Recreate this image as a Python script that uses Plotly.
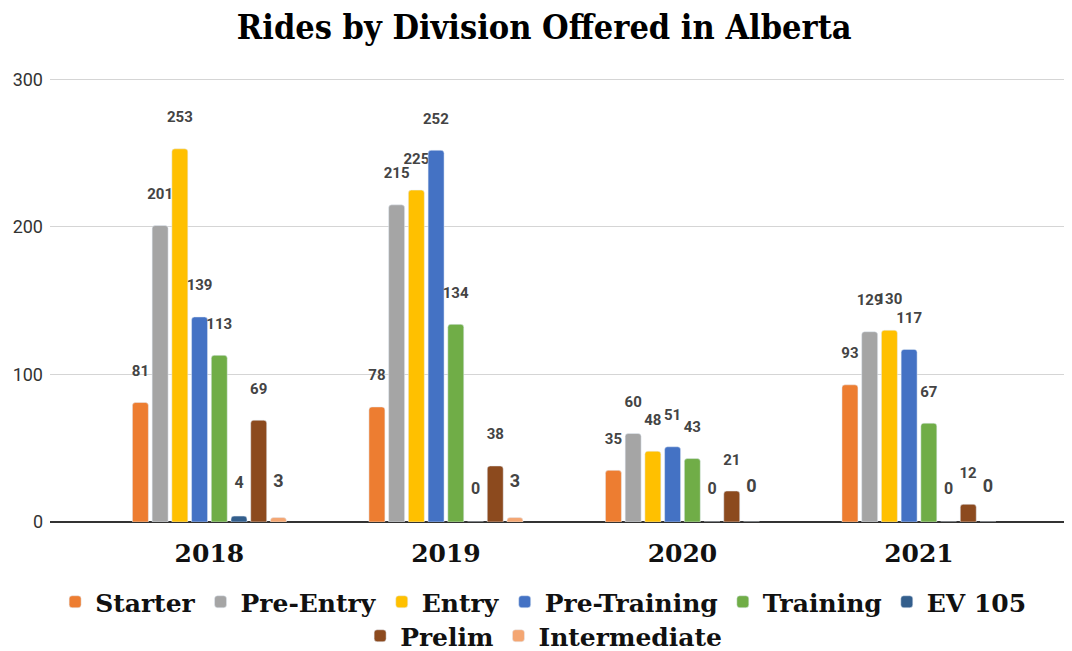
import plotly.graph_objects as go

years = ["2018", "2019", "2020", "2021"]
series_names = ["Starter", "Pre-Entry", "Entry", "Pre-Training", "Training", "EV 105", "Prelim", "Intermediate"]
starter = [81, 78, 35, 93]
pre_entry = [201, 215, 60, 129]
entry = [253, 225, 48, 130]
pre_training = [139, 252, 51, 117]
training = [113, 134, 43, 67]
ev105 = [4, 0, 0, 0]
prelim = [69, 38, 21, 12]
intermediate = [3, 3, 0, 0]
values = [starter, pre_entry, entry, pre_training, training, ev105, prelim, intermediate]
colors = ["#ED7D31", "#A5A5A5", "#FFC000", "#4472C4", "#70AD47", "#335E8C", "#8C4A1E", "#F4A672"]
legend_ids = ["legend", "legend", "legend", "legend", "legend", "legend", "legend2", "legend2"]
label_sizes = [15, 15, 15, 15, 15, 16, 15, 18]
y_ticks = [0, 100, 200, 300]

fig = go.Figure()
for name, vals, col, lg, ls in zip(series_names, values, colors, legend_ids, label_sizes):
    fig.add_trace(go.Bar(
        x=years, y=vals, name=name, marker_color=col, legend=lg,
        text=[str(v) + "<br> " for v in vals], textposition="outside",
        textfont=dict(family="Roboto", size=ls, color="#444444", weight="bold"),
        constraintext="none", cliponaxis=False,
    ))

legend_font = dict(family="DejaVu Serif", size=25, color="#111111", weight="bold")
fig.update_layout(
    width=1064, height=643,
    paper_bgcolor="white", plot_bgcolor="white",
    barmode="group", bargap=0.333, bargroupgap=0.19, barcornerradius=3,
    margin=dict(l=42, r=0, t=70, b=129, autoexpand=False),
    title=dict(text="<b>Rides by Division Offered in Alberta</b>", x=0.504, xanchor="center",
               y=1 - 19 / 643, yanchor="middle",
               font=dict(family="DejaVu Serif Condensed", size=34, color="#000000")),
    xaxis=dict(range=[-0.674, 3.647], showgrid=False, showline=False, ticks="",
               ticklabelstandoff=14,
               tickfont=dict(family="DejaVu Serif", size=25, color="#111111", weight="bold")),
    yaxis=dict(range=[0, 301], tickvals=y_ticks, showgrid=True, gridcolor="#D5D5D5", gridwidth=1,
               zeroline=True, zerolinecolor="#333333", zerolinewidth=1.5,
               ticklabelstandoff=6,
               tickfont=dict(family="Roboto", size=18, color="#333333")),
    legend=dict(orientation="h", x=0.483, xanchor="center", y=(514 - 594) / 444, yanchor="middle",
                font=legend_font, traceorder="normal", bgcolor="rgba(0,0,0,0)"),
    legend2=dict(orientation="h", x=0.483, xanchor="center", y=(514 - 628) / 444, yanchor="middle",
                 font=legend_font, traceorder="normal", bgcolor="rgba(0,0,0,0)"),
)
fig.write_html("out.html")
